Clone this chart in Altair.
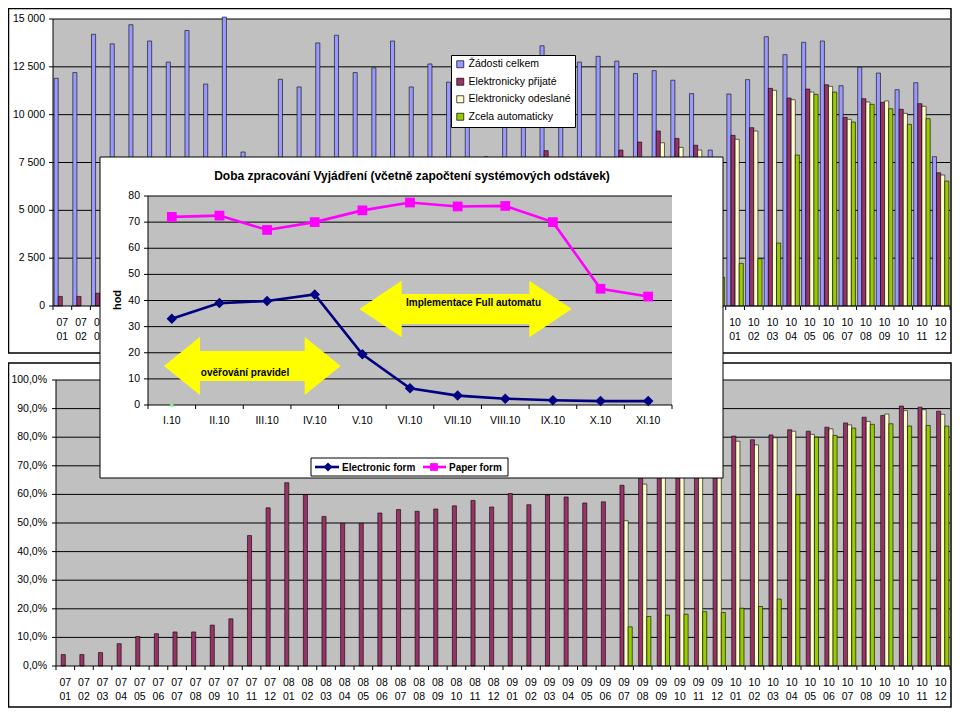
import altair as alt
import pandas as pd

FONT = "Liberation Sans"
W, H = 944, 700

# ---------------- data ----------------
years = ["07", "08", "09", "10"]
month_nums = ["01", "02", "03", "04", "05", "06", "07", "08", "09", "10", "11", "12"]
month_year = [y for y in years for _ in month_nums]
month_num = [m for _ in years for m in month_nums]
months = [f"{y}-{m}" for y, m in zip(month_year, month_num)]

series = ["Žádosti celkem", "Elektronicky přijaté", "Elektronicky odeslané", "Zcela automaticky"]
series_colors = ["#9999FF", "#993366", "#FFFFCC", "#99CC00"]

total_requests = [
    11900, 12200, 14200, 13700, 14700, 13850, 12750, 14400, 11600, 15100, 8050, 7300,
    11850, 11450, 13750, 14150, 12200, 12450, 13850, 11450, 12650, 11700, 11000, 7800,
    10800, 11500, 13600, 11800, 12750, 13050, 12800, 12150, 12300, 11800, 11100, 8150,
    11080, 11830, 14075, 13135, 13780, 13850, 11515, 12475, 12175, 11305, 11670, 7805]
received = [
    500, 500, 670, 1070, 1510, 1565, 1520, 1710, 1660, 2490, 3670, 4040,
    7600, 6860, 7190, 7060, 6090, 6660, 7580, 6190, 6940, 6550, 6370, 4340,
    6510, 6490, 8120, 6970, 7270, 7490, 8150, 8570, 9145, 8760, 8400, 6260,
    8920, 9320, 11375, 10870, 11340, 11565, 9860, 10835, 10645, 10280, 10575, 6965]
sent = [
    0, 0, 0, 0, 0, 0, 0, 0, 0, 0, 0, 0,
    0, 0, 0, 0, 0, 0, 0, 0, 0, 0, 0, 0,
    0, 0, 0, 0, 0, 0, 6510, 7710, 8530, 8290, 8150, 5915,
    8710, 9145, 11270, 10780, 11180, 11480, 9755, 10660, 10715, 10070, 10435, 6845]
fully_auto = [
    0, 0, 0, 0, 0, 0, 0, 0, 0, 0, 0, 0,
    0, 0, 0, 0, 0, 0, 0, 0, 0, 0, 0, 0,
    0, 0, 0, 0, 0, 0, 1760, 2100, 2190, 2135, 2105, 1500,
    2230, 2475, 3290, 7890, 11060, 11180, 9615, 10540, 10310, 9495, 9790, 6530]

pct_received = [
    4.0, 4.0, 4.7, 7.8, 10.3, 11.3, 11.9, 11.9, 14.3, 16.5, 45.6, 55.3,
    64.1, 59.9, 52.3, 49.9, 49.9, 53.5, 54.7, 54.1, 54.9, 56.0, 57.9, 55.6,
    60.3, 56.4, 59.8, 59.1, 57.0, 57.4, 63.2, 70.7, 74.3, 74.3, 75.8, 77.0,
    80.4, 79.1, 80.8, 82.6, 82.1, 83.5, 85.0, 87.0, 87.6, 90.9, 90.5, 89.1]
pct_sent = [
    0, 0, 0, 0, 0, 0, 0, 0, 0, 0, 0, 0,
    0, 0, 0, 0, 0, 0, 0, 0, 0, 0, 0, 0,
    0, 0, 0, 0, 0, 0, 50.8, 63.6, 69.3, 70.3, 73.6, 72.8,
    78.6, 77.3, 79.8, 82.1, 81.0, 82.9, 84.3, 85.5, 88.1, 89.3, 89.6, 88.0]
pct_auto = [
    0, 0, 0, 0, 0, 0, 0, 0, 0, 0, 0, 0,
    0, 0, 0, 0, 0, 0, 0, 0, 0, 0, 0, 0,
    0, 0, 0, 0, 0, 0, 13.7, 17.3, 17.8, 18.1, 19.0, 18.7,
    20.2, 20.8, 23.4, 59.9, 80.0, 80.6, 83.2, 84.5, 84.7, 83.9, 84.1, 83.9]

top_ticks = [0, 2500, 5000, 7500, 10000, 12500, 15000]
top_tick_labels = ["0", "2 500", "5 000", "7 500", "10 000", "12 500", "15 000"]
pct_ticks = [0, 10, 20, 30, 40, 50, 60, 70, 80, 90, 100]
pct_tick_labels = ["0,0%", "10,0%", "20,0%", "30,0%", "40,0%", "50,0%",
                   "60,0%", "70,0%", "80,0%", "90,0%", "100,0%"]

inset_title = "Doba zpracování Vyjádření (včetně započtení systémových odstávek)"
inset_months = ["I.10", "II.10", "III.10", "IV.10", "V.10", "VI.10",
                "VII.10", "VIII.10", "IX.10", "X.10", "XI.10"]
electronic_form = [33.0, 39.0, 39.8, 42.3, 19.4, 6.4, 3.6, 2.4, 1.8, 1.5, 1.5]
paper_form = [72.0, 72.5, 67.0, 70.0, 74.5, 77.5, 76.0, 76.2, 70.0, 44.5, 41.5]
inset_ticks = [0, 10, 20, 30, 40, 50, 60, 70, 80]
inset_tick_labels = ["0", "10", "20", "30", "40", "50", "60", "70", "80"]
inset_series = ["Electronic form", "Paper form"]
arrow_texts = ["ověřování pravidel", "Implementace Full automatu"]


# ---------------- helpers ----------------
def one():
    return pd.DataFrame({"k": [0]})


def box(x0, x1, y0, y1, fill, stroke=None, sw=1.0):
    kw = {"fill": fill}
    if stroke:
        kw.update(stroke=stroke, strokeWidth=sw)
    else:
        kw.update(strokeWidth=0)
    return alt.Chart(one()).mark_rect(**kw).encode(
        x=alt.value(x0), x2=alt.value(x1), y=alt.value(y0), y2=alt.value(y1))


def hline(x0, x1, y, color="black", sw=1.0):
    return alt.Chart(one()).mark_rule(color=color, strokeWidth=sw).encode(
        x=alt.value(x0), x2=alt.value(x1), y=alt.value(y))


def vline(x, y0, y1, color="black", sw=1.0):
    return alt.Chart(one()).mark_rule(color=color, strokeWidth=sw).encode(
        x=alt.value(x), y=alt.value(y0), y2=alt.value(y1))


def bar_panel(x0, x1, y_bottom, y_top, ydomain, df, ticks, tick_labels, legend,
              label_right, yrow1, yrow2):
    layers = []
    xs = alt.Scale(type="band", domain=months, range=[x0, x1], paddingInner=0.12, paddingOuter=0.06)
    ys = alt.Scale(domain=ydomain, range=[y_bottom, y_top], nice=False, zero=False)
    idx = alt.Scale(domain=[0, len(months)], range=[x0, x1], nice=False, zero=False)
    # plot area
    layers.append(box(x0, x1, y_top, y_bottom, "#C0C0C0"))
    grid = pd.DataFrame({"v": ticks[1:]})
    layers.append(alt.Chart(grid).mark_rule(color="black", strokeWidth=1).encode(
        y=alt.Y("v:Q", scale=ys, axis=None), x=alt.value(x0), x2=alt.value(x1)))
    # bars
    layers.append(alt.Chart(df).mark_bar(stroke="black", strokeWidth=0.6).encode(
        x=alt.X("month:N", scale=xs, axis=None),
        xOffset=alt.XOffset("series:N", scale=alt.Scale(domain=series, paddingInner=0, paddingOuter=0)),
        y=alt.Y("value:Q", scale=ys, axis=None),
        color=alt.Color("series:N", scale=alt.Scale(domain=series, range=series_colors), legend=legend),
    ))
    # axis lines
    layers.append(vline(x0, y_top, y_bottom))
    layers.append(hline(x0, x1, y_bottom))
    # ticks
    tdf = pd.DataFrame({"i": list(range(len(months) + 1))})
    layers.append(alt.Chart(tdf).mark_rule(color="black", strokeWidth=1).encode(
        x=alt.X("i:Q", scale=idx, axis=None), y=alt.value(y_bottom), y2=alt.value(y_bottom + 4)))
    ydf = pd.DataFrame({"v": ticks, "lab": tick_labels})
    layers.append(alt.Chart(ydf).mark_rule(color="black", strokeWidth=1).encode(
        y=alt.Y("v:Q", scale=ys, axis=None), x=alt.value(x0 - 4), x2=alt.value(x0)))
    layers.append(alt.Chart(ydf).mark_text(align="right", baseline="middle", font=FONT,
                                           fontSize=10.5, color="black").encode(
        y=alt.Y("v:Q", scale=ys, axis=None), x=alt.value(label_right), text="lab:N"))
    xdf = pd.DataFrame({"month": months, "yy": month_year, "mm": month_num})
    for field, yy in (("yy", yrow1), ("mm", yrow2)):
        layers.append(alt.Chart(xdf).mark_text(align="center", baseline="middle", font=FONT,
                                               fontSize=10.5, color="black").encode(
            x=alt.X("month:N", scale=xs, axis=None, bandPosition=0.5),
            y=alt.value(yy), text=f"{field}:N"))
    return layers


layers = []

# ---------------- top chart ----------------
top_df = pd.DataFrame({
    "month": months * 4,
    "series": [s for s in series for _ in months],
    "value": total_requests + received + sent + fully_auto,
})
top_df = top_df[top_df["value"] > 0]

top_legend = alt.Legend(
    title=None, orient="none", legendX=443, legendY=47, fillColor="white",
    strokeColor="black", padding=4, rowPadding=6.5, symbolType="square", symbolSize=49,
    symbolStrokeColor="black", symbolStrokeWidth=0.7, labelFont=FONT, labelFontSize=10.5,
    labelOffset=3, labelLimit=300, labelColor="black")

layers.append(box(0.5, 943, 0.5, 345, "white", "black", 1.5))
layers += bar_panel(45, 942, 298, 11, [0, 15000], top_df, top_ticks, top_tick_labels,
                    top_legend, 37, 314.5, 328.5)

# ---------------- bottom chart ----------------
bot_df = pd.DataFrame({
    "month": months * 3,
    "series": [s for s in series[1:] for _ in months],
    "value": pct_received + pct_sent + pct_auto,
})
bot_df = bot_df[bot_df["value"] > 0]

layers.append(box(0.5, 943, 355, 699, "white", "black", 1.5))
layers += bar_panel(48, 942, 658, 372, [0, 100], bot_df, pct_ticks, pct_tick_labels,
                    None, 39, 675.3, 689.3)

# ---------------- inset chart ----------------
IX0, IX1, IY0, IY1 = 140, 664, 397, 188
ixs = alt.Scale(type="point", domain=inset_months, range=[IX0, IX1], padding=0.5)
iys = alt.Scale(domain=[0, 80], range=[IY0, IY1], nice=False, zero=False)
iidx = alt.Scale(domain=[0, len(inset_months)], range=[IX0, IX1], nice=False, zero=False)

layers.append(box(92, 715, 149, 470, "white", "black", 1))
layers.append(alt.Chart(one()).mark_text(text=inset_title, font=FONT, fontSize=12, fontWeight="bold",
                                         align="center", baseline="middle", color="black").encode(
    x=alt.value(404), y=alt.value(168)))
layers.append(box(IX0, IX1, IY1, IY0, "#C0C0C0"))
igrid = pd.DataFrame({"v": inset_ticks[1:]})
layers.append(alt.Chart(igrid).mark_rule(color="black", strokeWidth=1).encode(
    y=alt.Y("v:Q", scale=iys, axis=None), x=alt.value(IX0), x2=alt.value(IX1)))
layers.append(vline(IX0, IY1, IY0))
layers.append(hline(IX0, IX1, IY0))
itdf = pd.DataFrame({"i": list(range(len(inset_months) + 1))})
layers.append(alt.Chart(itdf).mark_rule(color="black", strokeWidth=1).encode(
    x=alt.X("i:Q", scale=iidx, axis=None), y=alt.value(IY0), y2=alt.value(IY0 + 4)))
iydf = pd.DataFrame({"v": inset_ticks, "lab": inset_tick_labels})
layers.append(alt.Chart(iydf).mark_rule(color="black", strokeWidth=1).encode(
    y=alt.Y("v:Q", scale=iys, axis=None), x=alt.value(IX0 - 4), x2=alt.value(IX0)))
layers.append(alt.Chart(iydf).mark_text(align="right", baseline="middle", font=FONT,
                                        fontSize=10.5, color="black").encode(
    y=alt.Y("v:Q", scale=iys, axis=None), x=alt.value(132), text="lab:N"))
ixdf = pd.DataFrame({"m": inset_months})
layers.append(alt.Chart(ixdf).mark_text(align="center", baseline="middle", font=FONT,
                                        fontSize=10.5, color="black").encode(
    x=alt.X("m:N", scale=ixs, axis=None), y=alt.value(413), text="m:N"))
layers.append(alt.Chart(one()).mark_text(text="hod", font=FONT, fontSize=11, fontWeight="bold",
                                         angle=270, align="center", baseline="middle",
                                         color="black").encode(
    x=alt.value(109.5), y=alt.value(292)))

# yellow double arrows (annotations)
def arrow_path(head, hh, sh):
    b = 1 - head
    return (f"M -1 0 L {-b:.3f} {-hh:.3f} L {-b:.3f} {-sh:.3f} L {b:.3f} {-sh:.3f} "
            f"L {b:.3f} {-hh:.3f} L 1 0 L {b:.3f} {hh:.3f} L {b:.3f} {sh:.3f} "
            f"L {-b:.3f} {sh:.3f} L {-b:.3f} {hh:.3f} Z")

w1 = 176.7
layers.append(alt.Chart(one()).mark_point(
    shape=arrow_path(36 / (w1 / 2), 29 / (w1 / 2), 15 / (w1 / 2)), filled=True,
    fill="#FFFF00", strokeWidth=0, opacity=1, size=w1 * w1).encode(
    x=alt.value(244.3), y=alt.value(358)))
w2 = 212.4
layers.append(alt.Chart(one()).mark_point(
    shape=arrow_path(42.4 / (w2 / 2), 28.3 / (w2 / 2), 15 / (w2 / 2)), filled=True,
    fill="#FFFF00", strokeWidth=0, opacity=1, size=w2 * w2).encode(
    x=alt.value(457.5), y=alt.value(301)))
layers.append(alt.Chart(one()).mark_text(text=arrow_texts[0], font=FONT, fontSize=10,
                                         fontWeight="bold", align="center", baseline="middle",
                                         color="black").encode(x=alt.value(237), y=alt.value(365)))
layers.append(alt.Chart(one()).mark_text(text=arrow_texts[1], font=FONT, fontSize=10,
                                         fontWeight="bold", align="center", baseline="middle",
                                         color="black").encode(x=alt.value(465.5), y=alt.value(295)))

# lines
inset_df = pd.DataFrame({"m": inset_months, "e": electronic_form, "p": paper_form})
for fld, col, shp, sz in (("p", "#FF00FF", "square", 95), ("e", "#000080", "diamond", 110)):
    layers.append(alt.Chart(inset_df).mark_line(color=col, strokeWidth=2.6).encode(
        x=alt.X("m:N", scale=ixs, axis=None), y=alt.Y(f"{fld}:Q", scale=iys, axis=None)))
    layers.append(alt.Chart(inset_df).mark_point(shape=shp, filled=True, color=col, opacity=1,
                                                 size=sz).encode(
        x=alt.X("m:N", scale=ixs, axis=None), y=alt.Y(f"{fld}:Q", scale=iys, axis=None)))
layers.append(alt.Chart(pd.DataFrame({"m": [inset_months[0]], "v": [0]})).mark_point(
    shape="cross", angle=45, filled=True, color="#88EE88", opacity=1, size=18).encode(
    x=alt.X("m:N", scale=ixs, axis=None), y=alt.Y("v:Q", scale=iys, axis=None)))

# inset legend
layers.append(box(303, 500, 450, 468, "white", "black", 1))
layers.append(hline(307, 331, 459, "#000080", 2.6))
layers.append(alt.Chart(one()).mark_point(shape="diamond", filled=True, color="#000080",
                                          opacity=1, size=80).encode(x=alt.value(320), y=alt.value(459)))
layers.append(hline(415, 438, 459, "#FF00FF", 2.6))
layers.append(alt.Chart(one()).mark_point(shape="square", filled=True, color="#FF00FF",
                                          opacity=1, size=60).encode(x=alt.value(426), y=alt.value(459)))
layers.append(alt.Chart(one()).mark_text(text=inset_series[0], font=FONT, fontSize=10,
                                         fontWeight="bold", align="left", baseline="middle",
                                         color="black").encode(x=alt.value(334), y=alt.value(459.5)))
layers.append(alt.Chart(one()).mark_text(text=inset_series[1], font=FONT, fontSize=10,
                                         fontWeight="bold", align="left", baseline="middle",
                                         color="black").encode(x=alt.value(441), y=alt.value(459.5)))

chart = alt.layer(*layers).resolve_scale(
    x="independent", y="independent", xOffset="independent", color="independent"
).properties(
    width=W, height=H, padding=0, autosize=alt.AutoSizeParams(type="none"), background="white"
).configure_view(stroke=None)

chart.save("out.html", embed_options={"renderer": "svg", "actions": False})
